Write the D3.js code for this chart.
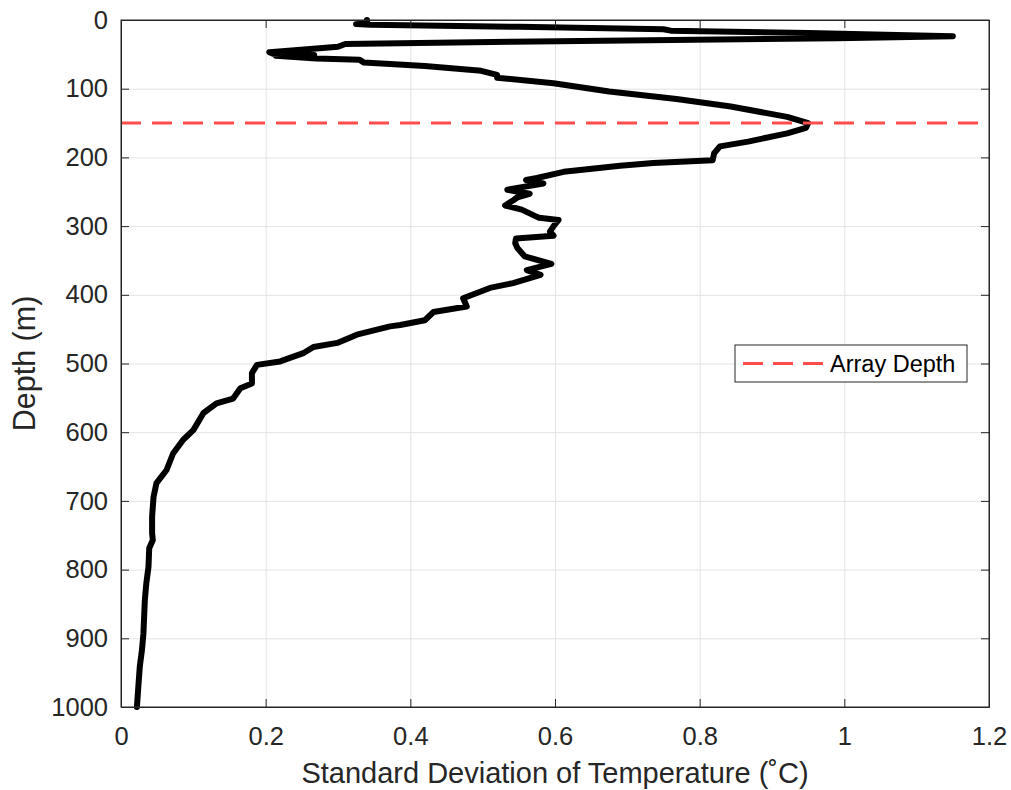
<!DOCTYPE html>
<html>
<head>
<meta charset="utf-8">
<script src="https://cdn.jsdelivr.net/npm/d3@7"></script>
<style>
  body { margin: 0; background: #fff; }
  svg { display: block; font-family: 'Liberation Sans', Arial, sans-serif; }
  .axis text { fill: #262626; font-size: 25.5px; }
  .axis path, .axis line { stroke: #262626; }
  .grid line { stroke: #e3e3e3; stroke-width: 1; }
  .grid path { display: none; }
</style>
</head>
<body>
<div class="chart"></div>
<script>
// depth (m) and standard deviation of temperature (degC)
const depth = [0, 5, 6, 7, 10, 13.5, 15.5, 19, 23.5, 26.7, 31.5, 35, 39, 44, 47, 49, 51, 52, 56, 58, 62,
  67, 74, 80, 84, 92, 104, 115, 126, 141, 150, 157, 165, 177, 184, 194, 204, 208, 212, 221, 230,
  233, 238, 247, 253, 258, 262, 270, 276, 288, 291, 300, 308, 314, 318, 325, 332, 344, 355, 364, 371,
  383, 390, 405, 417, 425, 437, 444, 446, 458, 470, 476, 485, 497, 502, 514, 529, 536, 551, 558, 572,
  597, 611, 631, 655, 674, 694, 723, 747, 757, 769, 796, 820, 844, 868, 893, 917, 941, 970, 1000]
const stdTemp = [0.34, 0.34, 0.325, 0.345, 0.55, 0.75, 0.76, 0.95, 1.15, 0.99, 0.54, 0.31, 0.30, 0.24, 0.205, 0.21, 0.267, 0.214, 0.27, 0.33, 0.336,
  0.42, 0.498, 0.52, 0.52, 0.598, 0.675, 0.768, 0.843, 0.921, 0.95, 0.947, 0.921, 0.867, 0.828, 0.82, 0.818, 0.736, 0.69, 0.612, 0.575,
  0.56, 0.584, 0.534, 0.565, 0.548, 0.543, 0.531, 0.554, 0.578, 0.605, 0.598, 0.593, 0.598, 0.546, 0.545, 0.548, 0.558, 0.595, 0.561, 0.58,
  0.542, 0.51, 0.473, 0.478, 0.432, 0.42, 0.386, 0.372, 0.326, 0.299, 0.266, 0.252, 0.22, 0.188, 0.181, 0.181, 0.165, 0.155, 0.132, 0.114,
  0.1, 0.086, 0.072, 0.063, 0.049, 0.045, 0.043, 0.043, 0.044, 0.039, 0.038, 0.035, 0.033, 0.032, 0.031, 0.029, 0.026, 0.024, 0.022]
const arrayDepth = 150
const xTicks = [0, 0.2, 0.4, 0.6, 0.8, 1, 1.2]
const yTicks = [0, 100, 200, 300, 400, 500, 600, 700, 800, 900, 1000]

const W = 1011
const H = 790
const margin = {top: 20, right: 22, bottom: 83, left: 121}
const width = W - margin.left - margin.right
const height = H - margin.top - margin.bottom

const svg = d3.select('.chart').append('svg')
  .attr('width', W)
  .attr('height', H)

const g = svg.append('g')
  .attr('transform', `translate(${margin.left},${margin.top})`)

const scaleX = d3.scaleLinear().domain([0, 1.2]).range([0, width])
const scaleY = d3.scaleLinear().domain([0, 1000]).range([0, height])

// grid
g.append('g').attr('class', 'grid')
  .call(d3.axisTop(scaleX).tickValues(xTicks).tickSize(-height).tickFormat(''))
g.append('g').attr('class', 'grid')
  .call(d3.axisLeft(scaleY).tickValues(yTicks).tickSize(-width).tickFormat(''))

// profile
const points = depth.map((d, i) => [stdTemp[i], d])
const line = d3.line()
  .x(d => scaleX(d[0]))
  .y(d => scaleY(d[1]))

g.append('path')
  .datum(points)
  .attr('fill', 'none')
  .attr('stroke', '#000')
  .attr('stroke-width', 6)
  .attr('stroke-linejoin', 'round')
  .attr('stroke-linecap', 'round')
  .attr('d', line)

// array depth
g.append('line')
  .attr('x1', 0)
  .attr('x2', width)
  .attr('y1', scaleY(arrayDepth))
  .attr('y2', scaleY(arrayDepth))
  .attr('stroke', '#ff4d4d')
  .attr('stroke-width', 3)
  .attr('stroke-dasharray', '20,11')

// axes
const fmt = d => String(+d.toFixed(1))
const axX = g.append('g').attr('class', 'axis')
  .attr('transform', `translate(0,${height})`)
  .call(d3.axisBottom(scaleX).tickValues(xTicks).tickSizeInner(-8).tickSizeOuter(0).tickPadding(20).tickFormat(fmt))
g.append('g').attr('class', 'axis')
  .call(d3.axisTop(scaleX).tickValues(xTicks).tickSizeInner(-8).tickSizeOuter(0).tickFormat(''))
g.append('g').attr('class', 'axis')
  .call(d3.axisLeft(scaleY).tickValues(yTicks).tickSizeInner(-8).tickSizeOuter(0).tickPadding(13).tickFormat(d => String(d)))
g.append('g').attr('class', 'axis')
  .attr('transform', `translate(${width},0)`)
  .call(d3.axisRight(scaleY).tickValues(yTicks).tickSizeInner(-8).tickSizeOuter(0).tickFormat(''))

g.append('rect')
  .attr('width', width)
  .attr('height', height)
  .attr('fill', 'none')
  .attr('stroke', '#262626')
  .attr('stroke-width', 1)

// labels
svg.append('text')
  .attr('x', margin.left + width / 2)
  .attr('y', 783)
  .attr('text-anchor', 'middle')
  .attr('fill', '#262626')
  .attr('font-size', 29)
  .text('Standard Deviation of Temperature (˚C)')

svg.append('text')
  .attr('transform', `translate(35,${margin.top + height / 2}) rotate(-90)`)
  .attr('text-anchor', 'middle')
  .attr('fill', '#262626')
  .attr('font-size', 30.5)
  .text('Depth (m)')

// legend
const legend = svg.append('g').attr('transform', 'translate(735,345)')
legend.append('rect')
  .attr('width', 232)
  .attr('height', 37)
  .attr('fill', '#fff')
  .attr('stroke', '#262626')
  .attr('stroke-width', 1)
legend.append('line')
  .attr('x1', 8)
  .attr('x2', 88)
  .attr('y1', 18.5)
  .attr('y2', 18.5)
  .attr('stroke', '#ff4d4d')
  .attr('stroke-width', 3)
  .attr('stroke-dasharray', '20,10')
legend.append('text')
  .attr('x', 95)
  .attr('y', 27)
  .attr('fill', '#000')
  .attr('font-size', 23.5)
  .text('Array Depth')
</script>
</body>
</html>
